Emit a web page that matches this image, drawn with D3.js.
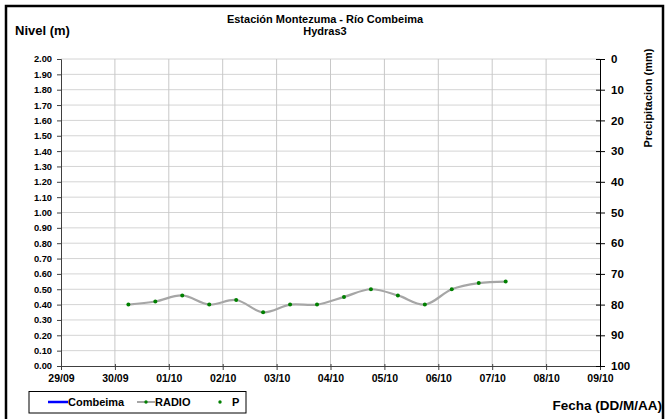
<!DOCTYPE html>
<html>
<head>
<meta charset="utf-8">
<script src="https://cdn.jsdelivr.net/npm/d3@7"></script>
<style>
  body { margin: 0; background: #fff; }
  svg { font-family: "Liberation Sans", Arial, sans-serif; font-weight: bold; }
</style>
</head>
<body>
<div id="chart"></div>
<script>
// readings every 12 h
var fechas = ["30/09 06", "30/09 18", "01/10 06", "01/10 18", "02/10 06", "02/10 18", "03/10 06", "03/10 18",
              "04/10 06", "04/10 18", "05/10 06", "05/10 18", "06/10 06", "06/10 18", "07/10 06"];
var nivel = [0.40, 0.42, 0.46, 0.40, 0.43, 0.35, 0.40, 0.40, 0.45, 0.50, 0.46, 0.40, 0.50, 0.54, 0.55];
var diasEje = ["29/09", "30/09", "01/10", "02/10", "03/10", "04/10", "05/10", "06/10", "07/10", "08/10", "09/10"];
var precipTicks = [0, 10, 20, 30, 40, 50, 60, 70, 80, 90, 100];
var leyenda = ["Combeima", "RADIO", "P"];

var W = 666, H = 419;
var parse = d3.timeParse("%d/%m %H %Y");
var parseDia = d3.timeParse("%d/%m %Y");
var datos = fechas.map(function(f, i){ return { t: parse(f + " 2011"), v: nivel[i] }; });
var dias = diasEje.map(function(d){ return parseDia(d + " 2011"); });

var svg = d3.select("#chart").append("svg")
  .attr("width", W).attr("height", H);

svg.append("rect").attr("x", 6).attr("y", 6).attr("width", 657).attr("height", 420)
  .attr("fill", "#fff").attr("stroke", "#000").attr("stroke-width", 2.5);

var x = d3.scaleTime().domain([dias[0], dias[dias.length - 1]]).range([61, 600]);
var y = d3.scaleLinear().domain([0, 2]).range([366, 59]);
var y2 = d3.scaleLinear().domain([0, 100]).range([59, 366]);

var yTicks = d3.range(0, 21).map(function(i){ return i / 10; });

// grid
svg.append("g").selectAll("line").data(yTicks.slice(1)).enter().append("line")
  .attr("x1", 61).attr("x2", 600)
  .attr("y1", function(d){ return y(d); }).attr("y2", function(d){ return y(d); })
  .attr("stroke", "#d4d4d4").attr("stroke-width", 1);
svg.append("g").selectAll("line").data(dias.slice(1, -1)).enter().append("line")
  .attr("y1", 59).attr("y2", 366)
  .attr("x1", function(d){ return x(d); }).attr("x2", function(d){ return x(d); })
  .attr("stroke", "#c8c8c8").attr("stroke-width", 1);

// left axis
var ejeY = svg.append("g").attr("transform", "translate(61,0)")
  .call(d3.axisLeft(y).tickValues(yTicks).tickFormat(d3.format(".2f")).tickSize(4));
ejeY.select(".domain").attr("stroke", "#404040");
ejeY.selectAll(".tick line").attr("stroke", "#404040");
ejeY.selectAll("text").attr("font-size", 9.3).attr("fill", "#000").attr("x", -9)
  .style("font-family", "Liberation Sans, Arial").style("font-weight", "bold");

// bottom axis
var ejeX = svg.append("g").attr("transform", "translate(0,366)")
  .call(d3.axisBottom(x).tickValues(dias).tickFormat(d3.timeFormat("%d/%m")).tickSize(4).tickSizeOuter(0));
ejeX.select(".domain").attr("stroke", "#404040");
ejeX.selectAll(".tick line").attr("stroke", "#404040").attr("y1", -2);
ejeX.selectAll("text").attr("font-size", 10.5).attr("fill", "#000").attr("y", 9)
  .style("font-family", "Liberation Sans, Arial").style("font-weight", "bold");

// right axis
var ejeP = svg.append("g").attr("transform", "translate(600,0)")
  .call(d3.axisRight(y2).tickValues(precipTicks).tickSize(5).tickSizeOuter(0));
ejeP.select(".domain").attr("stroke", "#000");
ejeP.selectAll(".tick line").attr("stroke", "#000").attr("x1", -4);
ejeP.selectAll("text").attr("font-size", 11.5).attr("fill", "#000").attr("x", 11)
  .style("font-family", "Liberation Sans, Arial").style("font-weight", "bold");

// series
var linea = d3.line().x(function(d){ return x(d.t); }).y(function(d){ return y(d.v); })
  .curve(d3.curveCatmullRom.alpha(0.5));
svg.append("path").datum(datos).attr("d", linea)
  .attr("fill", "none").attr("stroke", "#a6a6a6").attr("stroke-width", 2.2);
svg.append("g").selectAll("circle").data(datos).enter().append("circle")
  .attr("cx", function(d){ return x(d.t); }).attr("cy", function(d){ return y(d.v); })
  .attr("r", 2).attr("fill", "#008000");

// titles
svg.append("text").attr("x", 325).attr("y", 23).attr("text-anchor", "middle")
  .attr("font-size", 11).text("Estación Montezuma - Río Combeima");
svg.append("text").attr("x", 325).attr("y", 35).attr("text-anchor", "middle")
  .attr("font-size", 11).text("Hydras3");
svg.append("text").attr("x", 15).attr("y", 35).attr("font-size", 13).text("Nivel (m)");
svg.append("text").attr("transform", "translate(652,98) rotate(-90)").attr("text-anchor", "middle")
  .attr("font-size", 11).text("Precipitacion (mm)");
svg.append("text").attr("x", 662).attr("y", 410).attr("text-anchor", "end")
  .attr("font-size", 13.5).text("Fecha (DD/M/AA)");

// legend
var lg = svg.append("g");
lg.append("rect").attr("x", 29).attr("y", 391.5).attr("width", 217).attr("height", 21.5)
  .attr("fill", "#fff").attr("stroke", "#000").attr("stroke-width", 1);
lg.append("line").attr("x1", 48).attr("x2", 68).attr("y1", 402).attr("y2", 402)
  .attr("stroke", "#0000ff").attr("stroke-width", 2.5);
lg.append("line").attr("x1", 137).attr("x2", 155).attr("y1", 402).attr("y2", 402)
  .attr("stroke", "#a6a6a6").attr("stroke-width", 2);
lg.append("circle").attr("cx", 146).attr("cy", 402).attr("r", 1.7).attr("fill", "#008000");
lg.append("circle").attr("cx", 220).attr("cy", 402).attr("r", 1.7).attr("fill", "#008000");
var lx = [68, 155, 232];
lg.selectAll("text.ley").data(leyenda).enter().append("text").attr("class", "ley")
  .attr("x", function(d, i){ return lx[i]; }).attr("y", 406)
  .attr("font-size", 11).text(function(d){ return d; });
</script>
</body>
</html>
